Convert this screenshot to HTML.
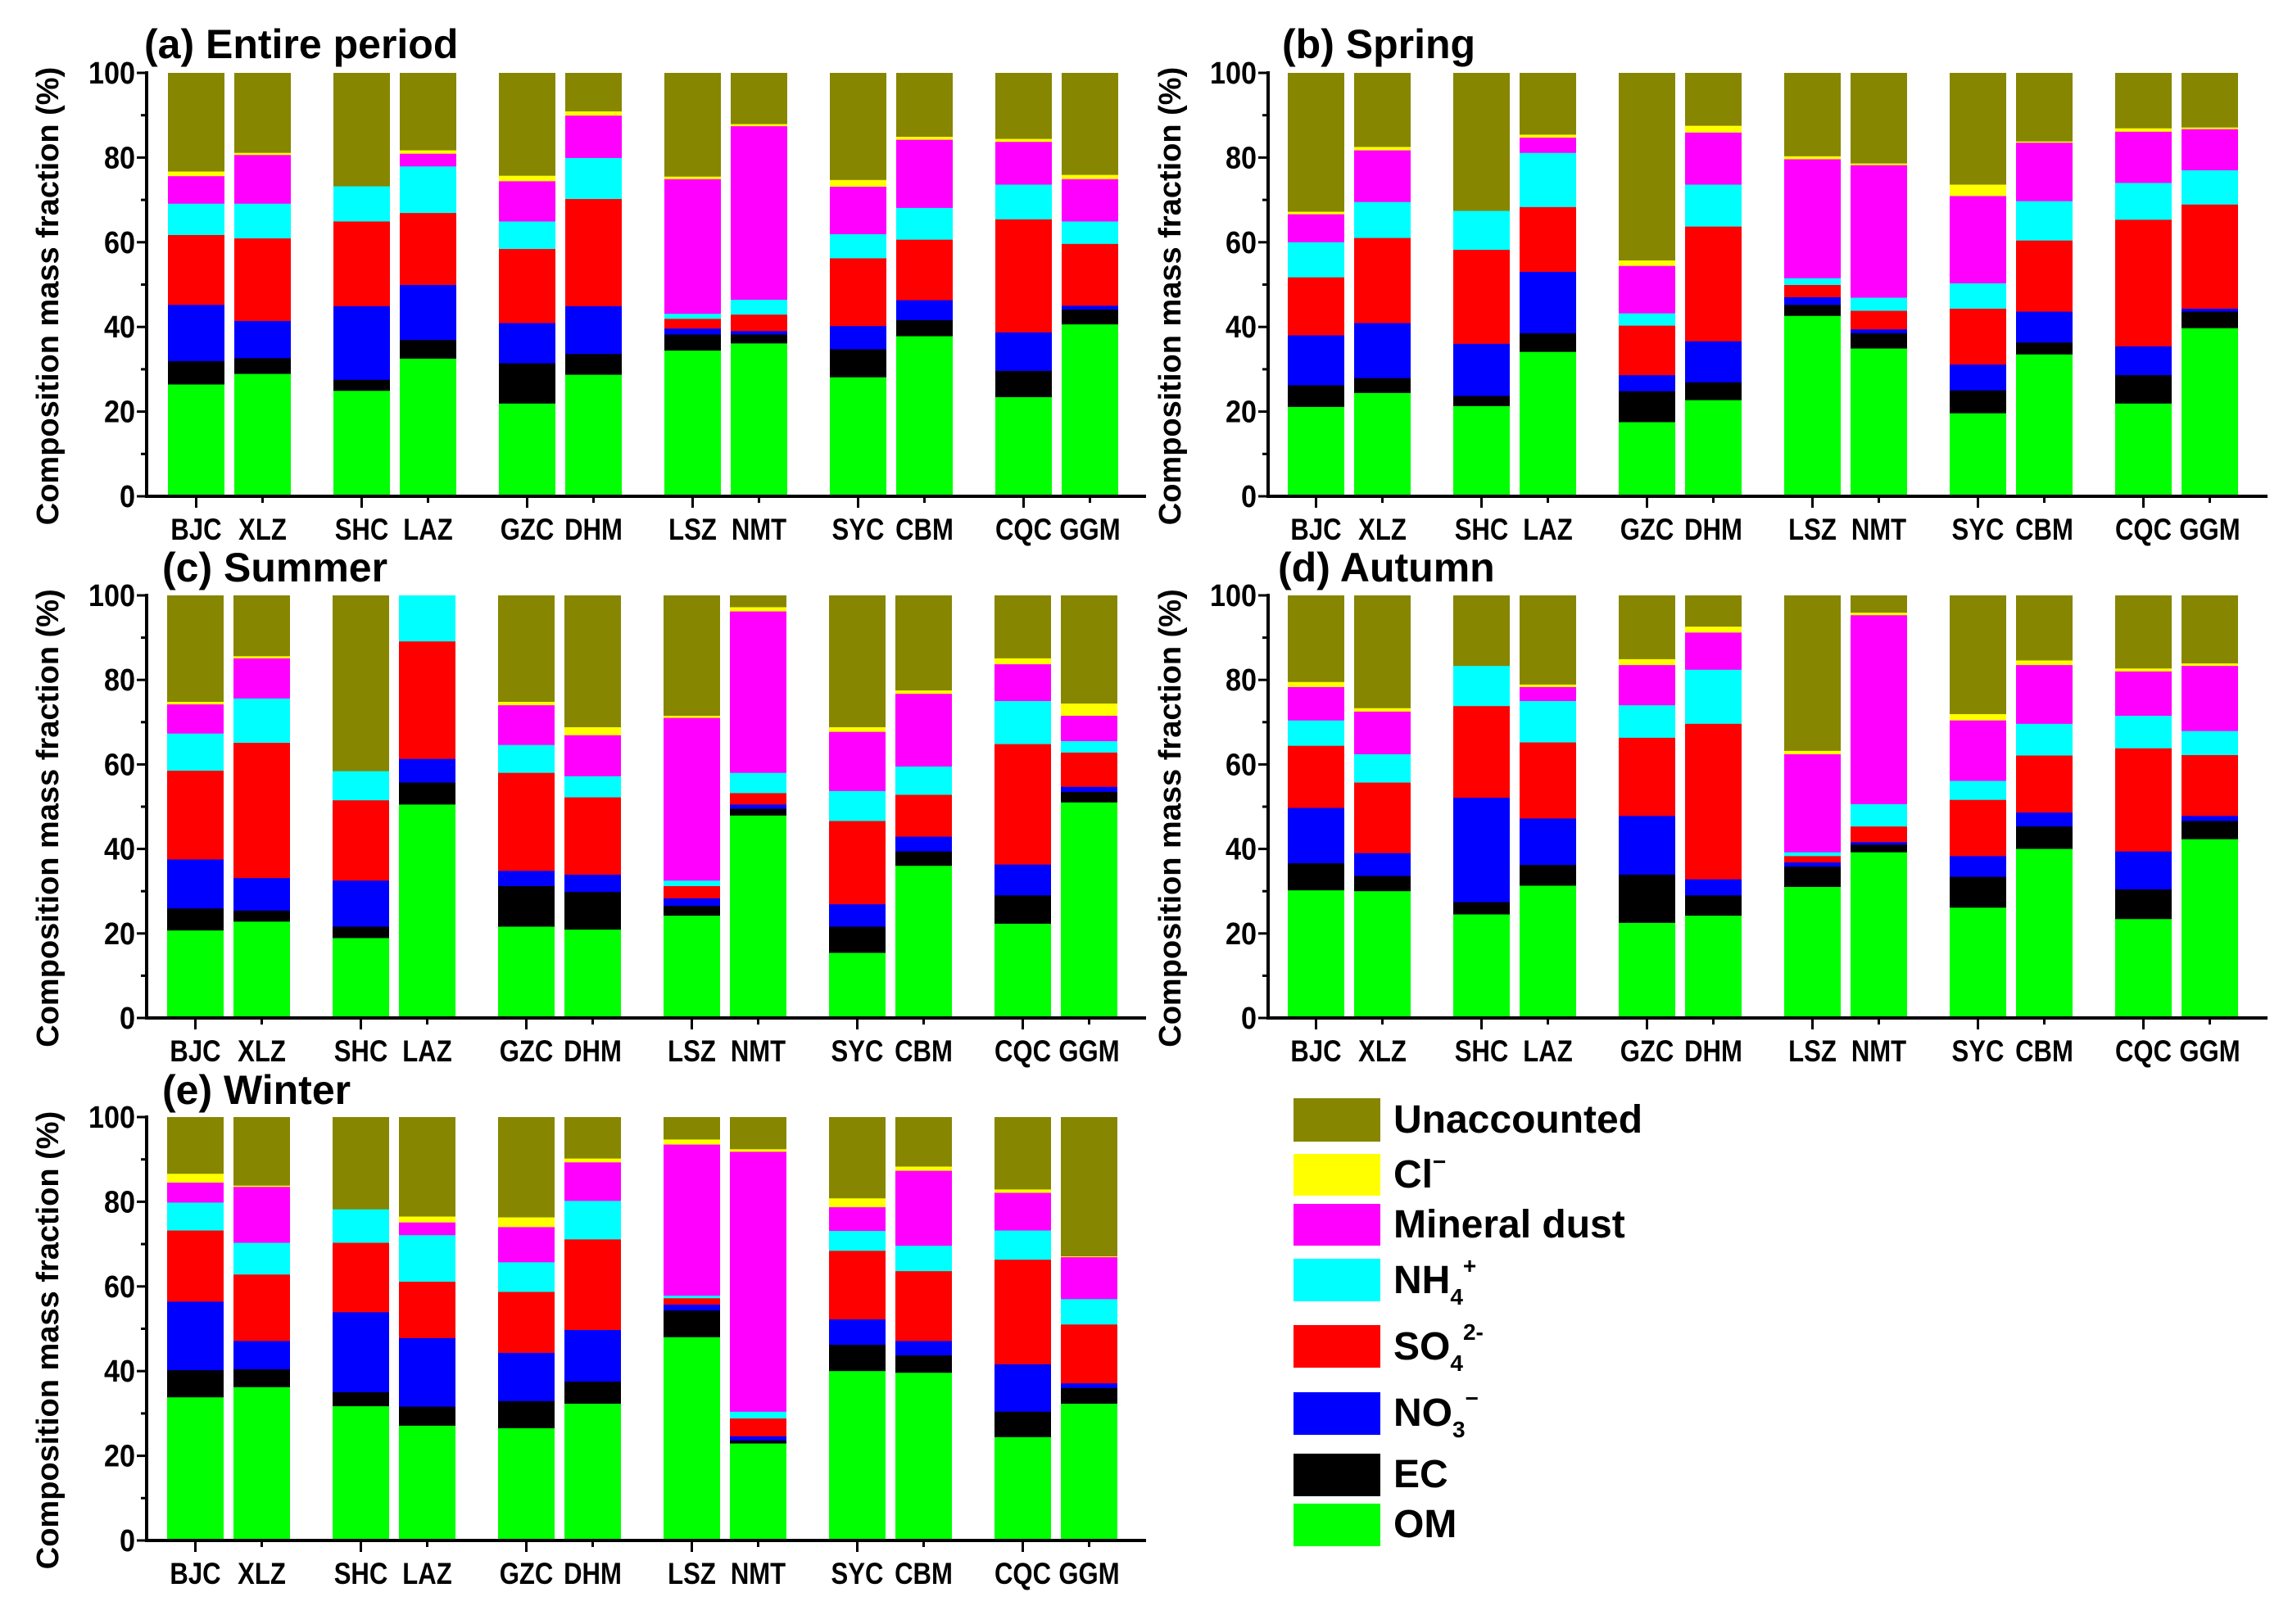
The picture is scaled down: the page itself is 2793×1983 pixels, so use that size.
<!DOCTYPE html>
<html><head><meta charset="utf-8">
<style>
html,body{margin:0;padding:0;background:#fff;}
svg{display:block;font-family:"Liberation Sans",Arial,sans-serif;font-weight:bold;}
</style></head>
<body>
<svg id="chart" width="2793" height="1983" viewBox="0 0 2793 1983" xmlns="http://www.w3.org/2000/svg">
<g id="legend">
  <g><rect x="1579" y="1341" width="106" height="53" fill="#868600"/><text x="1701" y="1383" font-size="48">Unaccounted</text></g>
  <g><rect x="1579" y="1409" width="106" height="51" fill="#ffff00"/><text x="1701" y="1450" font-size="48">Cl<tspan font-size="28" dy="-22">−</tspan></text></g>
  <g><rect x="1579" y="1470" width="106" height="51" fill="#ff00ff"/><text x="1701" y="1511" font-size="48">Mineral dust</text></g>
  <g><rect x="1579" y="1537" width="106" height="52" fill="#00ffff"/><text x="1701" y="1579" font-size="48">NH<tspan font-size="28" dy="14">4</tspan><tspan font-size="28" dy="-38">+</tspan></text></g>
  <g><rect x="1579" y="1618" width="106" height="52" fill="#ff0000"/><text x="1701" y="1660" font-size="48">SO<tspan font-size="28" dy="14">4</tspan><tspan font-size="28" dy="-38">2-</tspan></text></g>
  <g><rect x="1579" y="1700" width="106" height="52" fill="#0000ff"/><text x="1701" y="1741" font-size="48">NO<tspan font-size="28" dy="14">3</tspan><tspan font-size="28" dy="-38">−</tspan></text></g>
  <g><rect x="1579" y="1775" width="106" height="52" fill="#000000"/><text x="1701" y="1816" font-size="48">EC</text></g>
  <g><rect x="1579" y="1836" width="106" height="52" fill="#00ff00"/><text x="1701" y="1877" font-size="48">OM</text></g>
</g>
</svg>
<script>
const sites = ["BJC","XLZ","SHC","LAZ","GZC","DHM","LSZ","NMT","SYC","CBM","CQC","GGM"];
const yTicks = [0,20,40,60,80,100];
const componentNames = ["OM","EC","NO3","SO4","NH4","Mineral dust","Cl","Unaccounted"];

// (a) Entire period
const entireOM  = [26.5,29,25,32.6,22,28.8,34.5,36.2,28.2,37.9,23.5,40.7];
const entireEC  = [5.5,3.7,2.6,4.4,9.5,4.9,3.8,2.1,6.6,3.8,6.2,3.5];
const entireNO3 = [13.3,8.8,17.4,13,9.5,11.3,1.4,0.8,5.5,4.7,9.1,0.9];
const entireSO4 = [16.5,19.5,20,17,17.5,25.3,2.3,3.9,16,14.3,26.7,14.6];
const entireNH4 = [7.4,8.2,8.3,11,6.5,9.7,1.2,3.5,5.7,7.5,8.2,5.3];
const entireMin = [6.5,11.5,0,3,9.5,10,31.8,41,11.2,16.1,10.1,10];
const entireCl  = [1.1,0.5,0,0.8,1.3,1,0.6,0.5,1.6,0.7,0.7,1];
// (b) Spring
const springOM  = [21.2,24.5,21.4,34.2,17.6,22.8,42.7,35.0,19.7,33.6,22.0,39.8];
const springEC  = [5.1,3.5,2.4,4.4,7.3,4.2,2.6,3.6,5.4,2.8,6.7,3.9];
const springNO3 = [11.8,13.0,12.3,14.5,3.8,9.7,1.8,0.9,6.1,7.3,6.8,0.7];
const springSO4 = [13.7,20.1,22.2,15.3,11.7,27.1,2.9,4.4,13.2,16.8,29.9,24.6];
const springNH4 = [8.3,8.5,9.2,12.8,2.9,9.9,1.6,3.1,6.0,9.3,8.7,8.1];
const springMin = [6.6,12.2,0,3.6,11.2,12.3,28.1,31.3,20.6,13.8,12.1,9.7];
const springCl  = [0.6,0.8,0,0.7,1.3,1.6,0.7,0.4,2.7,0.3,0.8,0.4];
// (c) Summer
const summerOM  = [20.8,22.9,19.0,50.6,21.7,21.0,24.3,48.0,15.5,36.1,22.4,51.1];
const summerEC  = [5.2,2.6,2.7,5.2,9.6,8.9,2.3,1.6,6.2,3.4,6.7,2.5];
const summerNO3 = [11.6,7.7,10.9,5.6,3.6,4.1,1.8,1.0,5.3,3.5,7.3,1.2];
const summerSO4 = [21.0,32.0,19.0,27.8,23.2,18.3,2.9,2.7,19.7,9.9,28.5,8.1];
const summerNH4 = [8.8,10.5,6.9,10.8,6.6,5.0,1.3,4.8,7.1,6.7,10.2,2.7];
const summerMin = [6.9,9.5,0,0,9.4,9.7,38.5,38.2,14.0,17.2,8.7,6.0];
const summerCl  = [0.6,0.5,0,0,0.8,1.9,0.5,1.0,1.1,0.8,1.4,2.9];
// (d) Autumn
const autumnOM  = [30.3,30.1,24.6,31.4,22.6,24.3,31.1,39.3,26.2,40.1,23.5,42.4];
const autumnEC  = [6.4,3.6,2.9,4.9,11.4,4.8,4.8,1.8,7.3,5.3,7.0,4.3];
const autumnNO3 = [13.1,5.4,24.7,11.0,13.9,3.8,1.0,0.6,4.9,3.3,9.0,1.2];
const autumnSO4 = [14.7,16.7,21.7,18.0,18.5,36.8,1.5,3.7,13.3,13.5,24.4,14.4];
const autumnNH4 = [6.0,6.7,9.5,9.8,7.7,12.8,0.9,5.3,4.5,7.5,7.7,5.7];
const autumnMin = [7.9,10.1,0,3.3,9.5,8.8,23.2,44.7,14.3,13.9,10.5,15.4];
const autumnCl  = [1.2,0.8,0,0.6,1.4,1.4,0.8,0.6,1.5,1.1,0.7,0.6];
// (e) Winter
const winterOM  = [33.9,36.3,31.8,27.2,26.6,32.4,48.1,23.0,40.1,39.7,24.5,32.4];
const winterEC  = [6.4,4.2,3.3,4.5,6.4,5.2,6.3,0.7,6.2,4.1,6.0,3.7];
const winterNO3 = [16.2,6.7,18.9,16.2,11.4,12.2,1.4,1.0,6.0,3.4,11.2,1.1];
const winterSO4 = [16.8,15.7,16.4,13.3,14.4,21.4,1.5,4.2,16.2,16.5,24.7,13.9];
const winterNH4 = [6.6,7.5,7.9,11.0,7.0,9.1,0.6,1.6,4.7,6.0,6.9,6.0];
const winterMin = [4.7,13.2,0,3.0,8.3,9.1,35.7,61.4,5.6,17.7,8.9,9.9];
const winterCl  = [2.1,0.3,0,1.4,2.3,0.9,1.2,0.6,2.1,1.0,0.8,0.2];

const colors = ["#00ff00","#000000","#0000ff","#ff0000","#00ffff","#ff00ff","#ffff00","#868600"];
const NS = "http://www.w3.org/2000/svg";
const svg = document.getElementById("chart");

function mk(tag, attrs, parent){
  const e = document.createElementNS(NS, tag);
  for (const k in attrs) e.setAttribute(k, attrs[k]);
  parent.appendChild(e);
  return e;
}

const panels = [
  {id:"a", title:"(a) Entire period", ax:179, top:89, bot:606, bx:205, tx:176, ty:71, yt:58, series:[entireOM,entireEC,entireNO3,entireSO4,entireNH4,entireMin,entireCl]},
  {id:"b", title:"(b) Spring", ax:1548, top:89, bot:606, bx:1572, tx:1565, ty:71, yt:1428, series:[springOM,springEC,springNO3,springSO4,springNH4,springMin,springCl]},
  {id:"c", title:"(c) Summer", ax:179, top:727, bot:1243, bx:204, tx:198, ty:710, yt:58, series:[summerOM,summerEC,summerNO3,summerSO4,summerNH4,summerMin,summerCl]},
  {id:"d", title:"(d) Autumn", ax:1548, top:727, bot:1243, bx:1572, tx:1560, ty:710, yt:1428, series:[autumnOM,autumnEC,autumnNO3,autumnSO4,autumnNH4,autumnMin,autumnCl]},
  {id:"e", title:"(e) Winter", ax:179, top:1364, bot:1881, bx:204, tx:198, ty:1348, yt:58, series:[winterOM,winterEC,winterNO3,winterSO4,winterNH4,winterMin,winterCl]}
];

const BW = 69;
function barX(p, i){ return p.bx + Math.floor(i/2)*202 + (i%2)*81; }

panels.forEach(p => {
  const g = mk("g", {}, svg);
  
  
  const yS = v => p.bot - v/100*(p.bot - p.top);

  sites.forEach((s, i) => {
    const bg = mk("g", {}, g);
    
    
    let cum = 0;
    const vals = p.series.map(arr => arr[i]);
    const sum = vals.reduce((a,b)=>a+b,0);
    vals.push(Math.max(0, 100 - sum));
    vals.forEach((v, k) => {
      if (v <= 0) return;
      const y0 = yS(cum), y1 = yS(cum + v);
      const r = mk("rect", {x:barX(p,i), y:y1, width:BW, height:(y0-y1)+0.5, fill:colors[k]}, bg);
      
      
      cum += v;
    });
  });

  const ya = mk("line", {x1:p.ax, y1:p.top-2, x2:p.ax, y2:p.bot+2, stroke:"#000", "stroke-width":4}, g);
  
  
  const xa = mk("line", {x1:p.ax-2, y1:p.bot, x2:p.ax+1220, y2:p.bot, stroke:"#000", "stroke-width":4}, g);
  
  

  for (let v = 0; v <= 100; v += 10) {
    const major = v % 20 === 0;
    mk("line", {x1:p.ax - (major?12:7), y1:yS(v), x2:p.ax, y2:yS(v), stroke:"#000", "stroke-width":3}, g);
  }
  yTicks.forEach(v => {
    const lx = p.ax-14;
    const t = mk("text", {x:lx, y:yS(v)+13, "font-size":38, "text-anchor":"end", transform:"translate(" + lx + ",0) scale(0.9,1) translate(" + (-lx) + ",0)"}, g);
    
    
    t.textContent = v;
  });
  sites.forEach((s, i) => {
    const cx = barX(p,i) + BW/2;
    mk("line", {x1:cx, y1:p.bot, x2:cx, y2:p.bot + (i%2===0?14:8), stroke:"#000", "stroke-width":3}, g);
    const t = mk("text", {x:cx, y:p.bot+53, "font-size":37, "text-anchor":"middle", transform:"translate(" + cx + ",0) scale(0.84,1) translate(" + (-cx) + ",0)"}, g);
    
    
    t.textContent = s;
  });

  const tt = mk("text", {x:p.tx, y:p.ty, "font-size":50}, g);
  
  
  tt.textContent = p.title;

  const cy = (p.top + p.bot)/2 + 14;
  const yt = mk("text", {x:0, y:0, "font-size":38, "text-anchor":"middle", transform:"translate(" + (p.yt+13) + "," + cy + ") rotate(-90)"}, g);
  
  
  yt.textContent = "Composition mass fraction (%)";
});
</script>
</body></html>
